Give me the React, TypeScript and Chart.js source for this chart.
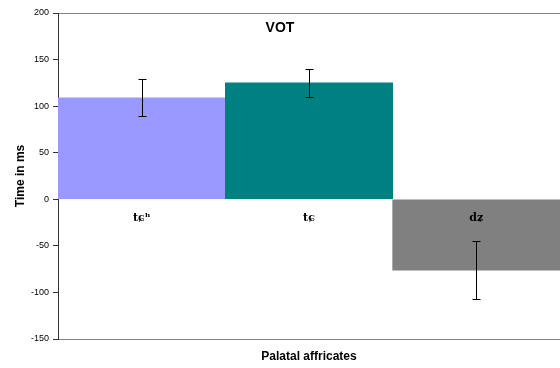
import React, { useEffect, useRef } from "react";
import { Chart, registerables } from "chart.js";

Chart.register(...registerables);

// Palatal affricates: mean voice onset time and its spread, in ms
const categories = ["tɕʰ", "tɕ", "dʑ"];
const meanVOT = [109, 125, -76];
const spreadVOT = [20, 15, 31];
const barColors = ["#9999FF", "#008080", "#808080"];
const yTicksMin = -150;
const yTicksMax = 200;
const yTickStep = 50;

const SANS = "'Liberation Sans', Arial, sans-serif";

const errorBarsPlugin = {
  id: "errorBars",
  afterDatasetsDraw(chart: any) {
    const { ctx } = chart;
    const yScale = chart.scales.y;
    const meta = chart.getDatasetMeta(0);
    ctx.save();
    ctx.strokeStyle = "#000";
    ctx.lineWidth = 1;
    meta.data.forEach((bar: any, i: number) => {
      const x = Math.round(bar.x) + 0.5;
      const hi = Math.round(yScale.getPixelForValue(meanVOT[i] + spreadVOT[i])) + 0.5;
      const lo = Math.round(yScale.getPixelForValue(meanVOT[i] - spreadVOT[i])) + 0.5;
      const cap = 4;
      ctx.beginPath();
      ctx.moveTo(x, hi);
      ctx.lineTo(x, lo);
      ctx.moveTo(x - cap, hi);
      ctx.lineTo(x + cap, hi);
      ctx.moveTo(x - cap, lo);
      ctx.lineTo(x + cap, lo);
      ctx.stroke();
    });
    ctx.restore();
  },
};

const chartHeadingPlugin = {
  id: "chartHeading",
  afterDraw(chart: any) {
    const { ctx, chartArea } = chart;
    ctx.save();
    ctx.fillStyle = "#000";
    ctx.font = `bold 14px ${SANS}`;
    ctx.textAlign = "center";
    ctx.textBaseline = "middle";
    ctx.fillText("VOT", chart.width / 2, chartArea.top + 15);
    ctx.restore();
  },
};

export default function App() {
  const canvasRef = useRef<HTMLCanvasElement | null>(null);

  useEffect(() => {
    if (!canvasRef.current) return;
    const chart = new Chart(canvasRef.current, {
      type: "bar",
      data: {
        labels: categories,
        datasets: [
          {
            data: meanVOT,
            backgroundColor: barColors,
            borderWidth: 0,
            categoryPercentage: 1,
            barPercentage: 1,
          },
        ],
      },
      options: {
        responsive: false,
        animation: false,
        layout: { padding: { top: 13, left: 0, right: 0, bottom: 0 } },
        plugins: {
          legend: { display: false },
          tooltip: { enabled: false },
        },
        scales: {
          x: {
            type: "category",
            position: { y: 0 } as any,
            grid: { display: false, drawTicks: false },
            border: { display: false },
            ticks: {
              z: 1,
              color: "#000",
              padding: 12,
              font: { family: "'DejaVu Serif', serif", size: 11, weight: "bold" },
            },
          },
          x2: {
            type: "category",
            position: "bottom",
            grid: { display: false, drawTicks: false },
            border: { display: false },
            ticks: { display: false },
            title: {
              display: true,
              text: "Palatal affricates",
              color: "#000",
              font: { family: SANS, size: 12, weight: "bold" },
              padding: { top: 0, bottom: 4 },
            },
            afterFit: (scale: any) => {
              scale.height = 29;
            },
          },
          y: {
            min: yTicksMin,
            max: yTicksMax,
            border: { display: true, color: "#333", width: 1 },
            grid: {
              drawOnChartArea: true,
              drawTicks: true,
              tickLength: 5,
              tickColor: "#333",
              color: (c: any) =>
                c.tick && (c.tick.value === yTicksMax || c.tick.value === yTicksMin)
                  ? "#808080"
                  : "rgba(0,0,0,0)",
            },
            ticks: {
              stepSize: yTickStep,
              color: "#000",
              padding: 4,
              font: { family: SANS, size: 9 },
            },
            title: {
              display: true,
              text: "Time in ms",
              color: "#000",
              font: { family: SANS, size: 12, weight: "bold" },
              padding: { top: 13, bottom: 0 },
            },
            afterFit: (scale: any) => {
              scale.width = 58;
            },
          },
        },
      },
      plugins: [errorBarsPlugin, chartHeadingPlugin],
    });
    return () => chart.destroy();
  }, []);

  return (
    <div style={{ position: "fixed", left: 0, top: 0, width: 560, height: 368, background: "#fff" }}>
      <canvas ref={canvasRef} width={560} height={368} />
    </div>
  );
}
